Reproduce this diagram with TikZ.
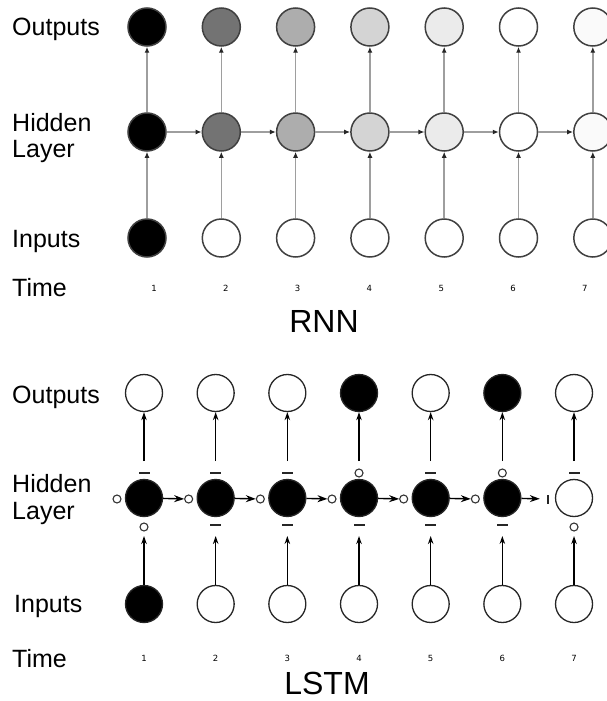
\documentclass[tikz,border=0pt]{standalone}
\usepackage{fontspec}
\setmainfont{Liberation Sans}
\newfontfamily\numfont{DejaVu Sans}
\usetikzlibrary{arrows.meta}
\begin{document}
\begin{tikzpicture}[x=1pt,y=-1pt,
  lab/.style={anchor=base west, inner sep=0pt, font=\fontsize{25}{26}\selectfont},
  ttl/.style={anchor=base, inner sep=0pt, font=\fontsize{32}{32}\selectfont},
  tnum/.style={inner sep=0pt, font=\numfont\fontsize{8.5}{8.5}\selectfont},
  rcell/.style={circle, minimum size=38pt, inner sep=0pt, draw=black!75, line width=1.5pt},
  rarrow/.style={draw=black!38, line width=1.5pt, -{Latex[length=6pt,width=5pt,color=black!85]}},
  lcell/.style={circle, minimum size=37pt, inner sep=0pt, draw=black!85, line width=1.3pt},
  larrow/.style={draw=black, line width=1.4pt, -{Stealth[length=8pt,width=5.5pt]}},
  harrow/.style={draw=black, line width=1.4pt, -{Stealth[length=10pt,width=7pt]}},
  gateo/.style={circle, draw=black!80, line width=1.1pt, minimum size=8pt, inner sep=0pt, fill=white},
  gated/.style={rectangle, fill=black!85, minimum width=11pt, minimum height=2pt, inner sep=0pt},
  gatebar/.style={rectangle, fill=black!85, minimum width=2pt, minimum height=9pt, inner sep=0pt}]

\fill[white] (0,0) rectangle (607,701);
\useasboundingbox (0,0) rectangle (607,701);

% ---------------- RNN ----------------
\node[lab] (rlo) at (12,36) {Outputs};
\node[lab] (rlh) at (12,131) {Hidden};
\node[lab] (rll) at (12,157) {Layer};
\node[lab] (rli) at (12,247) {Inputs};
\node[lab] (rlt) at (12,296) {Time};

\foreach \i/\sh in {1/100,2/55,3/32,4/17,5/8,6/0,7/2} {
  \pgfmathsetmacro\cx{147+74.3*(\i-1)}
  \node[rcell, fill=black!\sh] (ro\i) at (\cx,27) {};
  \node[rcell, fill=black!\sh] (rh\i) at (\cx,132) {};
}
\foreach \i/\sh in {1/100,2/0,3/0,4/0,5/0,6/0,7/0} {
  \pgfmathsetmacro\cx{147+74.3*(\i-1)}
  \node[rcell, fill=black!\sh] (ri\i) at (\cx,238) {};
  \pgfmathsetmacro\nx{154+71.8*(\i-1)}
  \node[tnum] (rt\i) at (\nx,288) {\i};
}
\foreach \i in {1,...,7} {
  \draw[rarrow] (rh\i) -- (ro\i);
  \draw[rarrow] (ri\i) -- (rh\i);
}
\foreach \i [evaluate=\i as \j using int(\i+1)] in {1,...,6}
  \draw[rarrow] (rh\i) -- (rh\j);

\node[ttl] (rttl) at (324,332) {RNN};

% ---------------- LSTM ----------------
\node[lab] (llo) at (12,403) {Outputs};
\node[lab] (llh) at (12,492) {Hidden};
\node[lab] (lll) at (12,519) {Layer};
\node[lab] (lli) at (14,612) {Inputs};
\node[lab] (llt) at (12,667) {Time};

\foreach \i/\o/\h/\n in {1/0/100/100,2/0/100/0,3/0/100/0,4/100/100/0,5/0/100/0,6/100/100/0,7/0/0/0} {
  \pgfmathsetmacro\cx{144+71.67*(\i-1)}
  \node[lcell, fill=black!\o] (lo\i) at (\cx,393) {};
  \node[lcell, fill=black!\h] (lh\i) at (\cx,498) {};
  \node[lcell, fill=black!\n] (li\i) at (\cx,604) {};
  \node[tnum] (lt\i) at (\cx,658) {\i};
  \coordinate (tp\i) at (\cx,461);
  \coordinate (bt\i) at (\cx,536);
}

% gates on the cell input side
\foreach \i in {1,...,6} {
  \pgfmathsetmacro\cx{144+71.67*(\i-1)}
  \node[gateo] (gl\i) at (\cx-27,499) {};
}
\node[gatebar] (gl7) at (548,499) {};

% gates on the output side
\foreach \i in {4,6} {
  \pgfmathsetmacro\cx{144+71.67*(\i-1)}
  \node[gateo] (gt\i) at (\cx,473) {};
}
\foreach \i in {1,2,3,5,7} {
  \pgfmathsetmacro\cx{144+71.67*(\i-1)}
  \node[gated] (gt\i) at (\cx,473) {};
}

% gates below the cell
\foreach \i in {1,7} {
  \pgfmathsetmacro\cx{144+71.67*(\i-1)}
  \node[gateo] (gb\i) at (\cx,527) {};
}
\foreach \i in {2,3,4,5,6} {
  \pgfmathsetmacro\cx{144+71.67*(\i-1)}
  \node[gated] (gb\i) at (\cx,525) {};
}

\foreach \i in {1,...,7} {
  \draw[larrow] (tp\i) -- (lo\i);
  \draw[larrow] (li\i) -- (bt\i);
}
\foreach \i [evaluate=\i as \j using int(\i+1)] in {1,...,5}
  \draw[harrow] (lh\i) -- (gl\j);
\draw[harrow, shorten >=7pt] (lh6) -- (gl7);

\node[ttl] (lttl) at (327,694) {LSTM};
\end{tikzpicture}
\end{document}
